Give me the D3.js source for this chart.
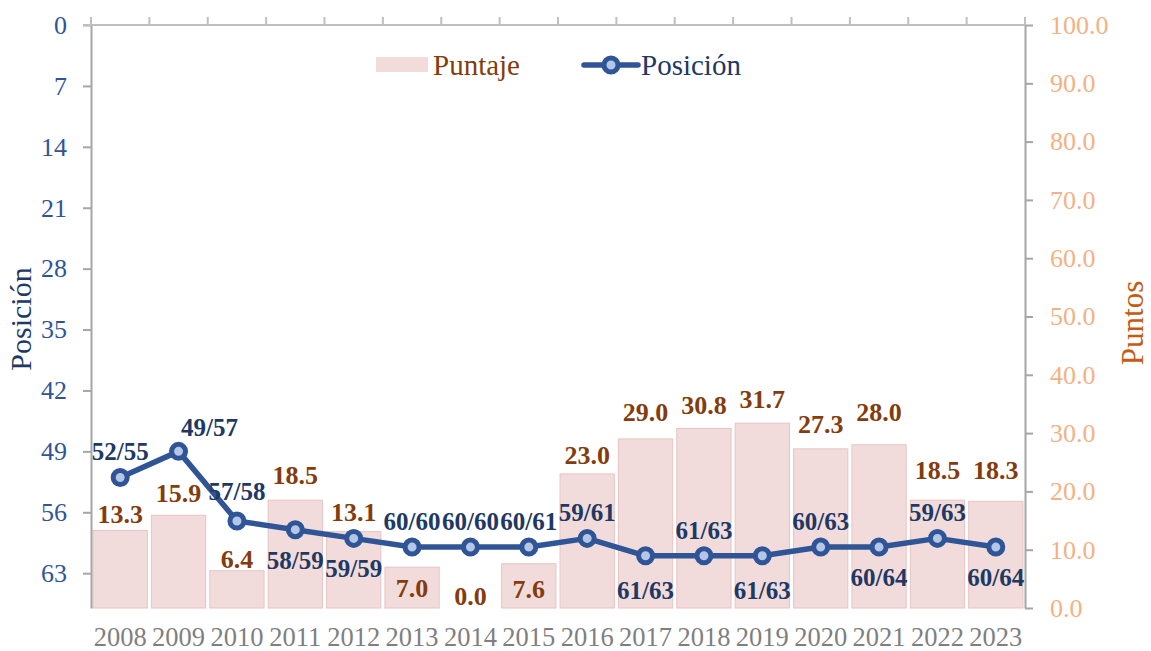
<!DOCTYPE html>
<meta charset="utf-8">
<style>
body{ margin:0; background:#fff; }
svg text{ font-family:"Liberation Serif","Times New Roman",serif; }
</style>
<div id="chart"></div>
<script src="https://cdn.jsdelivr.net/npm/d3@7"></script>
<script>

var years = ['2008','2009','2010','2011','2012','2013','2014','2015','2016','2017','2018','2019','2020','2021','2022','2023']
var puntaje = [13.3,15.9,6.4,18.5,13.1,7.0,0.0,7.6,23.0,29.0,30.8,31.7,27.3,28.0,18.5,18.3]
var posicion = [52,49,57,58,59,60,60,60,59,61,61,61,60,60,59,60]
var totales = [55,57,58,59,59,60,60,61,61,63,63,63,63,64,63,64]
var posTicks = [0,7,14,21,28,35,42,49,56,63]
var ptsTicks = [0,10,20,30,40,50,60,70,80,90,100]

// label placement (Excel labels were nudged by hand)
var posSide = ['up','up','up','down','down','up','up','up','up','down','up','down','up','down','up','down']
var ptsLift = [16,22,12,25,20,-21,12,-25,19,27,23,24,25,33,30,31]

var width = 1151, height = 651
var pLeft = 91, pRight = 1025, pTop = 25, pBottom = 608

var svg = d3.select('#chart').append('svg')
    .attr('width', width).attr('height', height)

var x = d3.scaleBand().domain(years).range([pLeft, pRight])
    .paddingInner(0.07).paddingOuter(0.035)
var yPos = d3.scaleLinear().domain([0, 67]).range([pTop, pBottom])
var yPts = d3.scaleLinear().domain([0, 100]).range([pBottom, pTop])

// bars
svg.append('g').selectAll('rect')
  .data(puntaje)
  .enter().append('rect')
    .attr('x', function(d, i){ return x(years[i]) })
    .attr('y', function(d){ return yPts(d) })
    .attr('width', x.bandwidth())
    .attr('height', function(d){ return pBottom - yPts(d) })
    .style('fill', '#f2dcdb')
    .style('stroke', '#e8c4c3')
    .style('stroke-width', 1)

// axes
var leftAxis = svg.append('g')
    .attr('transform', 'translate(' + pLeft + ',0)')
    .call(d3.axisLeft(yPos).tickValues(posTicks).tickSize(8).tickSizeOuter(0).tickPadding(16))
leftAxis.selectAll('text').style('fill', '#2f5597').style('font-size', '26px')

var rightAxis = svg.append('g')
    .attr('transform', 'translate(' + pRight + ',0)')
    .call(d3.axisRight(yPts).tickValues(ptsTicks).tickSize(8).tickSizeOuter(0).tickPadding(17)
      .tickFormat(d3.format('.1f')))
rightAxis.selectAll('text').style('fill', '#f4b183').style('font-size', '26px')

;[leftAxis, rightAxis].forEach(function(a){
  a.select('.domain').style('stroke', '#a6a6a6').style('stroke-width', 2)
  a.selectAll('.tick line').style('stroke', '#a6a6a6').style('stroke-width', 2)
})

// top category axis (position axis is reversed, so it crosses at 0)
var step = x.step()
var bounds = d3.range(years.length + 1).map(function(i){
  return pLeft + i * step
})
svg.append('line')
    .attr('x1', pLeft - 8).attr('x2', pRight)
    .attr('y1', pTop).attr('y2', pTop)
    .style('stroke', '#bfbfbf').style('stroke-width', 2)
svg.append('g').selectAll('line')
  .data(bounds)
  .enter().append('line')
    .attr('x1', function(d){ return d }).attr('x2', function(d){ return d })
    .attr('y1', pTop).attr('y2', pTop - 8)
    .style('stroke', '#bfbfbf').style('stroke-width', 2)

// year labels
svg.append('g').selectAll('text')
  .data(years)
  .enter().append('text')
    .attr('x', function(d){ return x(d) + x.bandwidth() / 2 })
    .attr('y', 646)
    .attr('text-anchor', 'middle')
    .style('font-size', '26.5px')
    .style('fill', '#7f7f7f')
    .text(function(d){ return d })

// position line
var cx = function(i){ return x(years[i]) + x.bandwidth() / 2 }
var line = d3.line()
    .x(function(d, i){ return cx(i) })
    .y(function(d){ return yPos(d) })

svg.append('path')
    .datum(posicion)
    .attr('d', line)
    .style('fill', 'none')
    .style('stroke', '#2f5597')
    .style('stroke-width', 5.5)
    .style('stroke-linejoin', 'round')

svg.append('g').selectAll('circle')
  .data(posicion)
  .enter().append('circle')
    .attr('cx', function(d, i){ return cx(i) })
    .attr('cy', function(d){ return yPos(d) })
    .attr('r', 7)
    .style('fill', '#b4c7e7')
    .style('stroke', '#2f5597')
    .style('stroke-width', 5)

// score labels
svg.append('g').selectAll('text')
  .data(puntaje)
  .enter().append('text')
    .attr('x', function(d, i){ return cx(i) })
    .attr('y', function(d, i){ return yPts(d) - ptsLift[i] + 9 })
    .attr('text-anchor', 'middle')
    .style('font-size', '26px')
    .style('font-weight', 'bold')
    .style('fill', '#843c0c')
    .text(function(d){ return d3.format('.1f')(d) })

// position labels
svg.append('g').selectAll('text')
  .data(posicion)
  .enter().append('text')
    .attr('x', function(d, i){ return cx(i) + (i == 1 ? 31 : 0) })
    .attr('y', function(d, i){
      var off = posSide[i] == 'up' ? -26 : (i == 11 || i == 9 ? 34 : 30)
      if (i == 1) off = -24
      if (i == 2) off = -30
      return yPos(d) + off + 9
    })
    .attr('text-anchor', 'middle')
    .style('font-size', '25px')
    .style('font-weight', 'bold')
    .style('fill', '#203864')
    .text(function(d, i){ return d + '/' + totales[i] })

// axis titles
svg.append('text')
    .attr('transform', 'translate(31,319) rotate(-90)')
    .attr('text-anchor', 'middle')
    .style('font-size', '30px')
    .style('fill', '#203864')
    .text('Posición')
svg.append('text')
    .attr('transform', 'translate(1143,323) rotate(-90)')
    .attr('text-anchor', 'middle')
    .style('font-size', '31px')
    .style('fill', '#c55a11')
    .text('Puntos')

// legend
var lg = svg.append('g')
lg.append('rect')
    .attr('x', 376).attr('y', 57).attr('width', 52).attr('height', 15)
    .style('fill', '#f2dcdb')
lg.append('text')
    .attr('x', 433).attr('y', 75)
    .style('font-size', '29px').style('fill', '#843c0c')
    .text('Puntaje')
lg.append('line')
    .attr('x1', 584).attr('x2', 638).attr('y1', 65).attr('y2', 65)
    .style('stroke', '#2f5597').style('stroke-width', 5.5).style('stroke-linecap', 'round')
lg.append('circle')
    .attr('cx', 611).attr('cy', 65).attr('r', 7)
    .style('fill', '#b4c7e7').style('stroke', '#2f5597').style('stroke-width', 5)
lg.append('text')
    .attr('x', 641).attr('y', 75)
    .style('font-size', '29px').style('fill', '#203864')
    .text('Posición')

</script>
